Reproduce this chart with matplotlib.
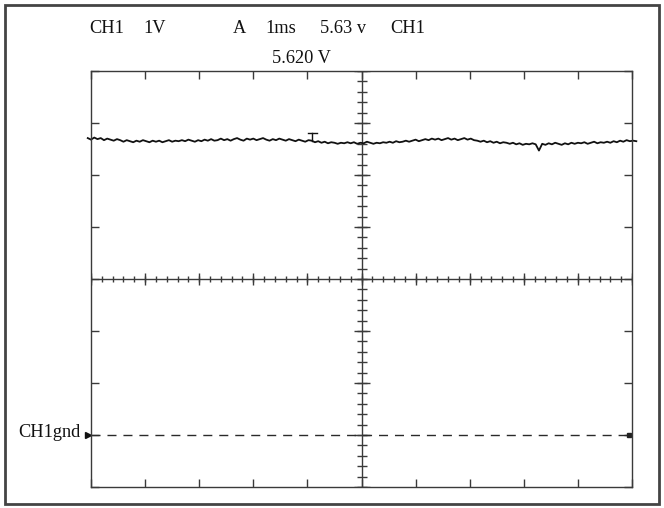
import numpy as np
import matplotlib
matplotlib.use("Agg")
import matplotlib.pyplot as plt
from matplotlib.patches import Rectangle

# Screen settings (1 V/div, 1 ms/div, 10 x 8 divisions)
x_divs = 10
y_divs = 8
v_per_div = 1.0
ms_per_div = 1.0
ground_level = 0.0          # CH1 ground reference (V)
center_level = 3.0          # voltage at the horizontal centre line

# CH1 trace samples (V), one every 0.06 ms
trace_t_start, trace_t_stop = -0.06, 10.08
trace_v = [
    5.71, 5.68, 5.72, 5.69, 5.71, 5.67, 5.70, 5.68, 5.66, 5.69,
    5.67, 5.64, 5.67, 5.65, 5.63, 5.66, 5.64, 5.67, 5.65, 5.63,
    5.66, 5.64, 5.66, 5.63, 5.65, 5.67, 5.64, 5.66, 5.65, 5.67,
    5.65, 5.68, 5.66, 5.64, 5.67, 5.65, 5.68, 5.66, 5.69, 5.66,
    5.67, 5.70, 5.67, 5.69, 5.66, 5.69, 5.71, 5.68, 5.66, 5.70,
    5.68, 5.70, 5.67, 5.69, 5.71, 5.68, 5.66, 5.69, 5.67, 5.70,
    5.68, 5.66, 5.69, 5.67, 5.65, 5.68, 5.66, 5.64, 5.67, 5.66,
    5.63, 5.65, 5.62, 5.64, 5.61, 5.63, 5.62, 5.60, 5.62, 5.61,
    5.63, 5.61, 5.63, 5.60, 5.62, 5.61, 5.64, 5.62, 5.60, 5.62,
    5.61, 5.63, 5.62, 5.64, 5.62, 5.65, 5.63, 5.64, 5.66, 5.64,
    5.66, 5.68, 5.65, 5.67, 5.69, 5.67, 5.70, 5.68, 5.70, 5.67,
    5.69, 5.71, 5.68, 5.70, 5.67, 5.69, 5.71, 5.68, 5.70, 5.67,
    5.66, 5.64, 5.66, 5.63, 5.65, 5.62, 5.64, 5.61, 5.63, 5.62,
    5.60, 5.62, 5.59, 5.61, 5.58, 5.60, 5.59, 5.61, 5.59, 5.47,
    5.60, 5.58, 5.61, 5.59, 5.62, 5.60, 5.58, 5.61, 5.59, 5.62,
    5.60, 5.62, 5.61, 5.63, 5.60, 5.62, 5.64, 5.61, 5.63, 5.62,
    5.64, 5.62, 5.65, 5.63, 5.66, 5.64, 5.67, 5.65, 5.66, 5.65,
]

# Trigger marker (time in ms, base and top level in V)
trig_t = 4.09
trig_v = [5.66, 5.81]

# Readouts
header_items = [("CH1", 89), ("1V", 143), ("A", 233), ("1ms", 265),
                ("5.63 v", 320), ("CH1", 390)]
cursor_text = "5.620 V"
gnd_text = "CH1gnd"

W, H = 664, 508
fig = plt.figure(figsize=(W / 100, H / 100), dpi=100)
fig.patch.set_facecolor("white")

L, R, T, B = 91, 632, 71, 487
ax = fig.add_axes([L / W, 1 - B / H, (R - L) / W, (B - T) / H])
x_max = x_divs * ms_per_div
y_min = center_level - y_divs / 2 * v_per_div
y_max = center_level + y_divs / 2 * v_per_div
ax.set_xlim(0, x_max)
ax.set_ylim(y_min, y_max)

grid_col = "#3a3a3a"
for s in ax.spines.values():
    s.set_color(grid_col)
    s.set_linewidth(1.0)

ax.set_xticks(np.arange(0, x_max + 0.001, ms_per_div))
ax.set_yticks(np.arange(y_min, y_max + 0.001, v_per_div))
ax.tick_params(direction="in", length=6, width=1.0, color=grid_col,
               top=True, right=True, labelbottom=False, labelleft=False)

x_mid = x_max / 2

# Centre cross with fine graduations
ax.axhline(center_level, color=grid_col, lw=1.0)
ax.axvline(x_mid, color=grid_col, lw=1.0)
fine_x = np.arange(0, x_max + 0.001, ms_per_div / 5)
fine_y = np.arange(y_min, y_max + 0.001, v_per_div / 5)
major_x = np.arange(0, x_max + 0.001, ms_per_div)
major_y = np.arange(y_min, y_max + 0.001, v_per_div)
ax.plot(fine_x, np.full_like(fine_x, center_level), ls="none", marker="|",
        ms=5, mew=1.0, color=grid_col)
ax.plot(major_x, np.full_like(major_x, center_level), ls="none", marker="|",
        ms=9, mew=1.0, color=grid_col)
ax.plot(np.full_like(fine_y, x_mid), fine_y, ls="none", marker="_",
        ms=7, mew=1.0, color=grid_col)
ax.plot(np.full_like(major_y, x_mid), major_y, ls="none", marker="_",
        ms=12, mew=1.0, color=grid_col)

# Ground reference line with markers at both ends
ax.plot([0, x_max], [ground_level, ground_level], color="#2a2a2a", lw=1.0,
        ls=(0, (6.5, 5)))
ax.plot([-0.05], [ground_level], marker=">", ms=5, color="#111111",
        clip_on=False)
ax.plot([x_max - 0.05], [ground_level], marker="s", ms=3, color="#222222",
        clip_on=False)

# CH1 trace
t = np.linspace(trace_t_start, trace_t_stop, len(trace_v))
ax.plot(t, trace_v, color="#111111", lw=1.3, clip_on=False)

# Trigger point marker
ax.plot([trig_t, trig_t], trig_v, color="#111111", lw=1.0)
ax.plot([trig_t - 0.08, trig_t + 0.08], [trig_v[1], trig_v[1]],
        color="#111111", lw=1.0)

# Readouts
font = dict(family="Liberation Serif", fontsize=13.2, color="#111111",
            ha="left", va="baseline")
for label, px in header_items:
    fig.text(px / W, 1 - 33 / H, label, **font)
fig.text(272 / W, 1 - 63 / H, cursor_text, **font)
fig.text(18 / W, 1 - 437 / H, gnd_text, **font)

# Outer frame
fig.add_artist(Rectangle((5 / W, 1 - 504 / H), 654 / W, 499 / H,
                         transform=fig.transFigure, fill=False,
                         edgecolor="#444444", lw=2.0))

fig.savefig("out.png", dpi=100)
